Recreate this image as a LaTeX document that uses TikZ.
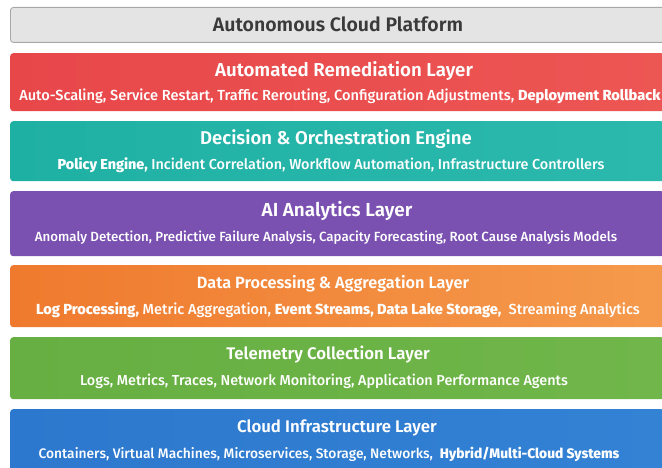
\documentclass[tikz,border=0pt]{standalone}
\usepackage{fontspec}
\setmainfont{Fira Sans}[BoldFont={Fira Sans SemiBold}]
\newfontfamily\medfont{Fira Sans Medium}
\definecolor{greyfill}{HTML}{E4E4E4}
\definecolor{greyline}{HTML}{A8A8A8}
\definecolor{greytext}{HTML}{3A3A3A}
\definecolor{redA}{HTML}{E8474A}
\definecolor{redB}{HTML}{EC5653}
\definecolor{tealA}{HTML}{1FB0A4}
\definecolor{tealB}{HTML}{2CB9AD}
\definecolor{purpA}{HTML}{7A50B1}
\definecolor{purpB}{HTML}{8A61C0}
\definecolor{oranA}{HTML}{EF7A2E}
\definecolor{oranB}{HTML}{F59A4C}
\definecolor{greenA}{HTML}{67AF42}
\definecolor{greenB}{HTML}{70B64A}
\definecolor{blueA}{HTML}{2C78CE}
\definecolor{blueB}{HTML}{3382D4}
\begin{document}
\begin{tikzpicture}[x=1pt,y=-1pt,
  layerbox/.style={rounded corners=3pt, minimum width=654pt, inner sep=0pt, anchor=north west},
  ttl/.style={font=\bfseries\fontsize{#1}{#1}\selectfont, text=white, inner sep=0pt},
  sub/.style={font=\medfont\fontsize{#1}{#1}\selectfont, text=white, inner sep=0pt}]
\useasboundingbox (0,0) rectangle (662,468);
\clip (0,0) rectangle (662,468);
\fill[white] (0,0) rectangle (662,468);

% platform header
\node[layerbox, fill=greyfill, draw=greyline, line width=0.9pt, minimum height=35pt] (platform) at (10,7) {};
\node[font=\bfseries\fontsize{19.5}{20}\selectfont, text=greytext, inner sep=0pt] (platformT) at (338,24.5) {Autonomous Cloud Platform};

% remediation
\node[layerbox, left color=redA, right color=redB, minimum height=58pt] (remed) at (10,53) {};
\node[ttl=18.7] (remedT) at (344,71) {Automated Remediation Layer};
\node[sub=14.6] (remedS) at (340,96) {Auto-Scaling, Service Restart, Traffic Rerouting, Configuration Adjustments, \textbf{Deployment Rollback}};

% decision engine
\node[layerbox, left color=tealA, right color=tealB, minimum height=60pt] (decide) at (10,121) {};
\node[ttl=18.5] (decideT) at (336,139) {Decision \& Orchestration Engine};
\node[sub=14.4] (decideS) at (331,165) {\textbf{Policy Engine,} Incident Correlation, Workflow Automation, Infrastructure Controllers};

% analytics
\node[layerbox, left color=purpA, middle color=purpB, right color=purpA, minimum height=65pt] (ai) at (10,191) {};
\node[ttl=18.9] (aiT) at (337,211) {AI Analytics Layer};
\node[sub=13.3] (aiS) at (326,238) {Anomaly Detection, Predictive Failure Analysis, Capacity Forecasting, Root Cause Analysis Models};

% data processing
\node[layerbox, left color=oranA, right color=oranB, minimum height=62pt] (data) at (10,265) {};
\node[ttl=16.3] (dataT) at (333,284) {Data Processing \& Aggregation Layer};
\node[sub=14.6] (dataS) at (338,310) {\textbf{Log Processing,} Metric Aggregation, \textbf{Event Streams, Data Lake Storage,}\ \ Streaming Analytics};

% telemetry
\node[layerbox, left color=greenA, right color=greenB, minimum height=62pt] (tele) at (10,337) {};
\node[ttl=16.8] (teleT) at (328,355) {Telemetry Collection Layer};
\node[sub=14.4] (teleS) at (324,381) {Logs, Metrics, Traces, Network Monitoring, Application Performance Agents};

% infrastructure
\node[layerbox, left color=blueA, right color=blueB, minimum height=70pt] (infra) at (10,409) {};
\node[ttl=16.8] (infraT) at (337,428) {Cloud Infrastructure Layer};
\node[sub=13.8] (infraS) at (329,454) {Containers, Virtual Machines, Microservices, Storage, Networks,\ \ \textbf{Hybrid/Multi-Cloud Systems}};
\end{tikzpicture}
\end{document}
